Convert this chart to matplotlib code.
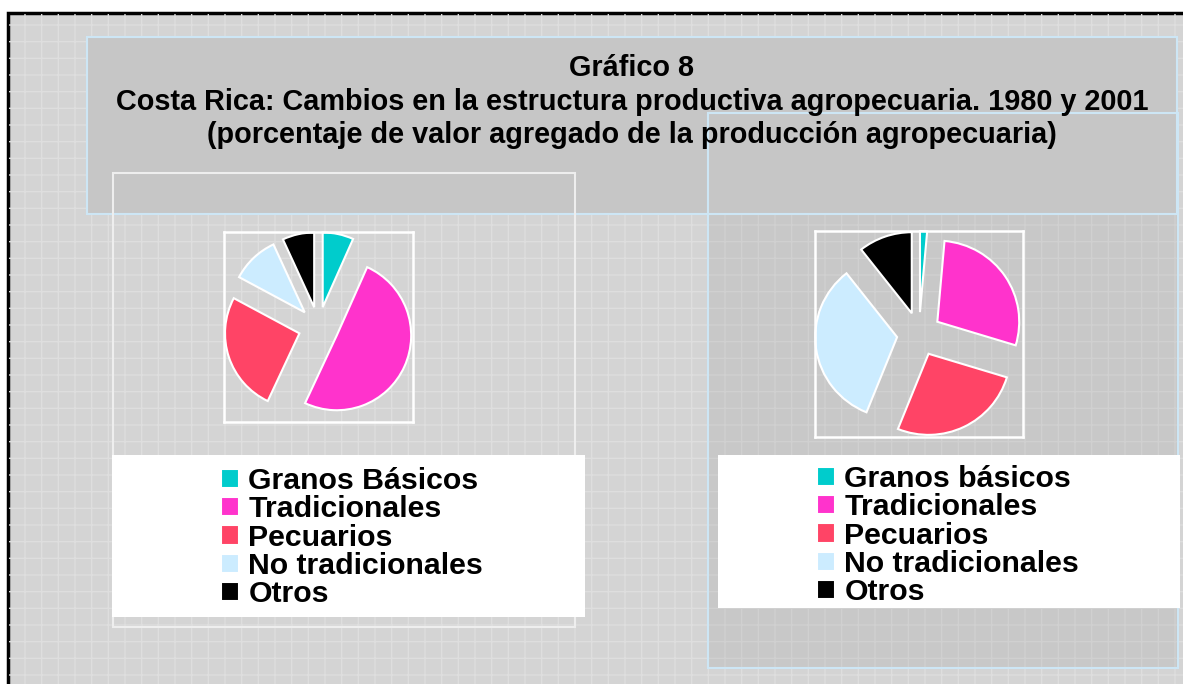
import numpy as np
import matplotlib.pyplot as plt
from matplotlib.patches import Rectangle

# Datos (porcentaje del valor agregado agropecuario)
categorias_1980 = ['Granos Básicos', 'Tradicionales', 'Pecuarios', 'No tradicionales', 'Otros']
categorias_2001 = ['Granos básicos', 'Tradicionales', 'Pecuarios', 'No tradicionales', 'Otros']
valores_1980 = [6.7, 50.3, 25.8, 10.3, 6.9]
valores_2001 = [1.4, 28.3, 26.4, 33.3, 10.6]
colores = ['#00CCCC', '#FF33CC', '#FF4466', '#CCECFF', '#000000']

titulo = ['Gráfico 8',
          'Costa Rica: Cambios en la estructura productiva agropecuaria. 1980 y 2001',
          '(porcentaje de valor agregado de la producción agropecuaria)']

W, H = 1183, 684
plt.rcParams['hatch.linewidth'] = 1.0
fig = plt.figure(figsize=(W / 100, H / 100), dpi=100)
fig.patch.set_facecolor('white')

# capa de fondo en coordenadas de pixel
bg = fig.add_axes([0, 0, 1, 1])
bg.set_xlim(0, W)
bg.set_ylim(H, 0)
bg.axis('off')


def caja(x0, y0, x1, y1, **kw):
    bg.add_patch(Rectangle((x0, y0), x1 - x0, y1 - y0, **kw))


# fondo general con textura
caja(8, 13, W + 10, H + 10, facecolor='#d4d4d4', edgecolor='black', lw=2.5, zorder=1)
caja(9, 14, W + 10, H + 10, facecolor='none', edgecolor='#dedede', lw=0, hatch='+', zorder=1.1)
# caja del grafico derecho
caja(708, 113, 1178, 668, facecolor='#c8c8c8', edgecolor='none', zorder=2)
caja(708, 113, 1178, 668, facecolor='none', edgecolor='#d0d0d0', lw=0, hatch='+', zorder=2.1)
caja(708, 113, 1178, 668, facecolor='none', edgecolor='#cde6f5', lw=1.5, zorder=4)
# caja del titulo
caja(87, 37, 1177, 214, facecolor='#c6c6c6', edgecolor='#cde6f5', lw=1.5, zorder=3)
# area del grafico izquierdo
caja(113, 173, 575, 627, facecolor='none', edgecolor='#eeeeee', lw=1.5, zorder=4)
# cajas de leyenda
caja(112, 455, 585, 617, facecolor='white', edgecolor='none', zorder=5)
caja(718, 455, 1180, 608, facecolor='white', edgecolor='none', zorder=5)

fuente = {'family': 'Liberation Sans', 'weight': 'bold'}
for txt, yb in zip(titulo, [76, 110, 143]):
    bg.text(632, yb, txt, ha='center', va='baseline', fontsize=20.8, zorder=6, **fuente)


def pastel(x0, y0, x1, y1, valores, etiquetas, leg_x, leg_y):
    ax = fig.add_axes([x0 / W, 1 - y1 / H, (x1 - x0) / W, (y1 - y0) / H])
    ax.set_zorder(6)
    wedges, _ = ax.pie(valores, colors=colores, startangle=90, counterclock=False,
                       explode=[0.27] * len(valores), frame=True,
                       wedgeprops=dict(edgecolor='white', linewidth=1.5))
    ax.set_xlim(-1.27, 1.27)
    ax.set_ylim(-1.27, 1.27)
    ax.set_aspect('auto')
    ax.set_facecolor('none')
    ax.set_xticks([])
    ax.set_yticks([])
    for s in ax.spines.values():
        s.set_color('white')
        s.set_linewidth(1.8)
    leg = fig.legend(wedges, etiquetas, loc='upper left',
                     bbox_to_anchor=(leg_x / W, 1 - leg_y / H),
                     frameon=False, borderpad=0, borderaxespad=0,
                     handlelength=0.6, handleheight=0.6, handletextpad=0.3,
                     labelspacing=0.01, prop=dict(size=21.8, **fuente))
    leg.set_zorder(7)
    return ax


pastel(224, 232, 413, 422, valores_1980, categorias_1980, 221, 467)
pastel(815, 231, 1023, 437, valores_2001, categorias_2001, 817, 465)

fig.savefig('out.png', dpi=100)
